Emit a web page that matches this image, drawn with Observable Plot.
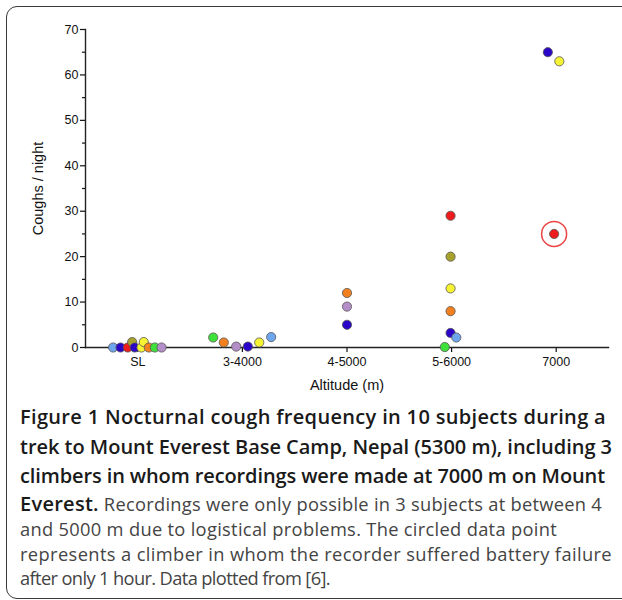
<!DOCTYPE html>
<html><head><meta charset="utf-8">
<script src="https://cdn.jsdelivr.net/npm/d3@7"></script>
<script src="https://cdn.jsdelivr.net/npm/@observablehq/plot@0.6"></script>
<style>
html,body{margin:0;padding:0;background:#fff;overflow:hidden;}
body{width:622px;height:600px;position:relative;}
#frame{position:absolute;left:6px;top:6px;width:700px;height:591px;border:1.5px solid #3a3a3a;border-radius:11px;}
#chart{position:absolute;left:0;top:0;}
#caption{position:absolute;left:20px;top:402.3px;font-family:"Open Sans";white-space:nowrap;}
#caption div span.t{display:inline-block;}
.l{height:29.3px;line-height:29.3px;font-size:20px;}
.b{font-weight:600;color:#1a1a1a;}
.r{height:24.5px;line-height:24.5px;font-size:18.3px;color:#444;}
.r .b{font-size:20px;}
g[aria-label="x-axis label"] text, g[aria-label="y-axis label"] text{font-size:14.5px;}
</style>
</head><body>
<div id="frame"></div>
<div id="chart"></div>
<div id="caption">
<div class="l b"><span class="t" data-w="586">Figure 1 Nocturnal cough frequency in 10 subjects during a</span></div>
<div class="l b"><span class="t" data-w="592">trek to Mount Everest Base Camp, Nepal (5300 m), including 3</span></div>
<div class="l b"><span class="t" data-w="585">climbers in whom recordings were made at 7000 m on Mount</span></div>
<div class="r" style="height:27px;line-height:27px;"><span class="t" data-w="582"><span class="b">Everest.</span> Recordings were only possible in 3 subjects at between 4</span></div>
<div class="r"><span class="t" data-w="537">and 5000 m due to logistical problems. The circled data point</span></div>
<div class="r"><span class="t" data-w="592">represents a climber in whom the recorder suffered battery failure</span></div>
<div class="r"><span class="t" data-w="310">after only 1 hour. Data plotted from [6].</span></div>
</div>
<script>
const categories = ["SL", "3-4000", "4-5000", "5-6000", "7000"];
const subjects = ["S1","S2","S3","S4","S5","S6","S7","S8","S9","S10"];
const subjectColors = ["#6ea6ee","#2a05c8","#ee1c1c","#a8a22c","#2a05c8","#f6f234","#f6f234","#f2801e","#3ee03a","#b48ec8"];
// jittered altitude-group positions (0 = SL ... 4 = 7000) and coughs per night
const pointSubject = ["S1","S2","S3","S4","S5","S6","S7","S8","S9","S10",
  "S9","S8","S10","S2","S6","S1",
  "S8","S10","S2",
  "S3","S4","S6","S8","S2","S1","S9",
  "S2","S6","S3"];
const pointX = [-0.236,-0.165,-0.096,-0.054,-0.029,0.035,0.057,0.105,0.163,0.227,
  0.721,0.822,0.941,1.052,1.161,1.275,
  2.0,2.0,2.0,
  2.99,2.99,2.99,2.99,2.99,3.045,2.935,
  3.92,4.03,3.98];
const pointCoughs = [0,0,0,1.2,0,0,1.2,0,0,0,
  2.2,1.1,0.2,0.2,1.1,2.3,
  12,9,5,
  29,20,13,8,3.2,2.2,0.1,
  65,63,25];
const circledPoint = [false,false,false,false,false,false,false,false,false,false,
  false,false,false,false,false,false,
  false,false,false,
  false,false,false,false,false,false,false,
  false,false,true];
const yTicks = [0,10,20,30,40,50,60,70];
const yMinorTicks = [5,15,25,35,45,55,65];

const data = pointX.map((x, i) => ({x, y: pointCoughs[i], subject: pointSubject[i], circled: circledPoint[i]}));

const chart = Plot.plot({
  width: 622, height: 400,
  marginLeft: 85, marginRight: 14, marginTop: 29, marginBottom: 53,
  style: {fontFamily: "'Liberation Sans', Arial, sans-serif", fontSize: "12.5px", color: "#111", background: "transparent", overflow: "visible"},
  x: {domain: [-0.5, 4.5]},
  y: {domain: [0, 70]},
  color: {domain: subjects, range: subjectColors},
  marks: [
    Plot.axisX(d3.range(categories.length), {tickFormat: i => categories[i], tickSize: 5, tickPadding: 5, strokeWidth: 1.2, fontSize: 12.5,
      label: "Altitude (m)", labelAnchor: "center", labelOffset: 42, labelArrow: "none"}),
    Plot.axisY(yTicks, {tickSize: 5, tickPadding: 2, strokeWidth: 1.2, fontSize: 12.5,
      label: "Coughs / night", labelAnchor: "center", labelOffset: 53, labelArrow: "none"}),
    Plot.axisY(yMinorTicks, {tickSize: 3, tickFormat: () => "", label: null, strokeWidth: 1.2}),
    Plot.frame({anchor: "left", strokeWidth: 1.4, stroke: "#222"}),
    Plot.frame({anchor: "bottom", strokeWidth: 1.4, stroke: "#222"}),
    Plot.dot(data.filter(d => d.circled), {x: "x", y: "y", r: 12.5, stroke: "#e84545", strokeWidth: 1.5, fill: "none"}),
    Plot.dot(data, {x: "x", y: "y", r: 4.6, fill: "subject", stroke: "#555", strokeWidth: 0.8, fillOpacity: 1})
  ]
});
document.getElementById("chart").appendChild(chart);

// fit each caption line to the width it has in the original figure
document.querySelectorAll("#caption span.t").forEach(s => {
  const target = +s.dataset.w;
  const natural = s.getBoundingClientRect().width;
  const n = s.textContent.length;
  s.style.letterSpacing = ((target - natural) / n).toFixed(3) + "px";
});
</script>
</body></html>
